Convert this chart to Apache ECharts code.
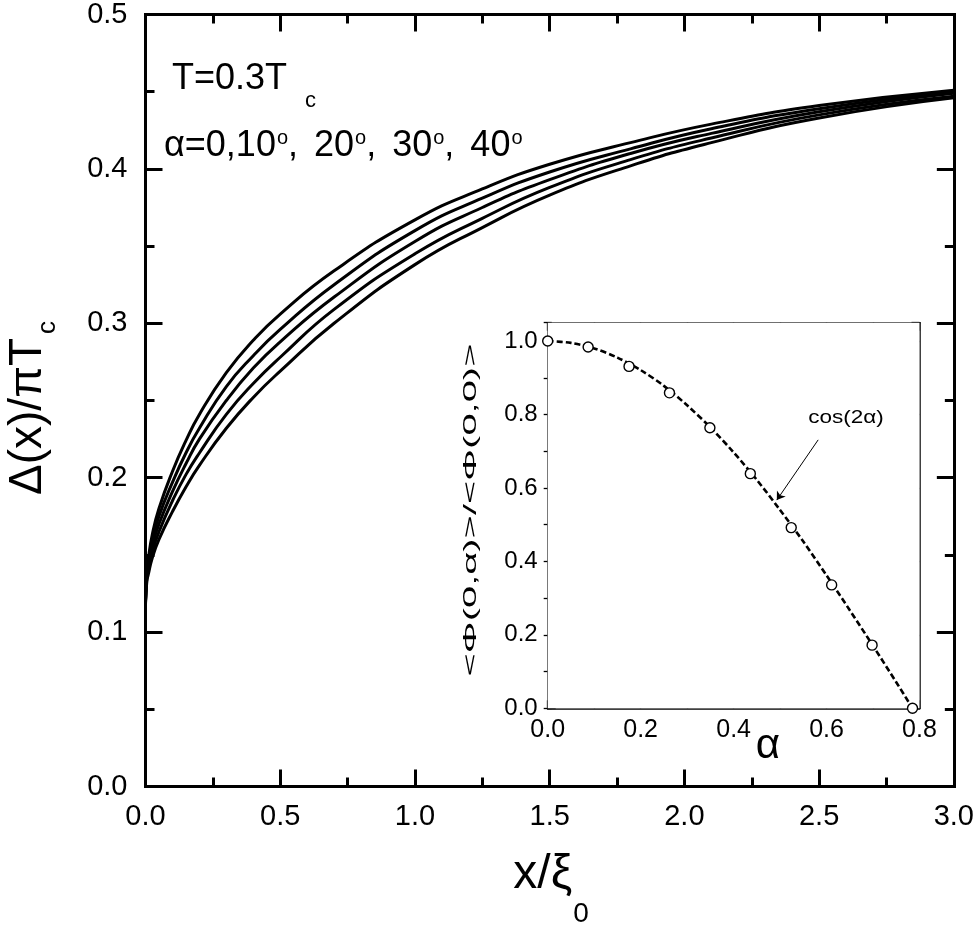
<!DOCTYPE html>
<html>
<head>
<meta charset="utf-8">
<script src="https://cdn.jsdelivr.net/npm/echarts@6.0.0/dist/echarts.min.js"></script>
<style>
html,body{margin:0;padding:0;background:#fff;}
#chart{width:977px;height:926px;}
</style>
</head>
<body>
<div id="chart"></div>
<script>
// ---------- data ----------
const xPos = [0, 0.005, 0.01, 0.025, 0.05, 0.1, 0.15, 0.2, 0.3, 0.4, 0.5, 0.7, 1.0, 1.25, 1.5, 1.8, 2.1, 2.5, 3.0];
const gapA0  = [0.121, 0.140, 0.147, 0.163, 0.180, 0.204, 0.224, 0.241, 0.268, 0.289, 0.306, 0.334, 0.367, 0.387, 0.403, 0.417, 0.429, 0.441, 0.451];
const gapA10 = [0.120, 0.138, 0.144, 0.159, 0.175, 0.197, 0.216, 0.232, 0.259, 0.279, 0.296, 0.325, 0.360, 0.381, 0.398, 0.413, 0.426, 0.439, 0.450];
const gapA20 = [0.120, 0.136, 0.142, 0.156, 0.170, 0.191, 0.209, 0.225, 0.250, 0.271, 0.288, 0.317, 0.353, 0.375, 0.393, 0.410, 0.423, 0.437, 0.449];
const gapA30 = [0.119, 0.135, 0.140, 0.152, 0.165, 0.185, 0.202, 0.216, 0.241, 0.261, 0.278, 0.309, 0.345, 0.368, 0.388, 0.406, 0.420, 0.435, 0.447];
const gapA40 = [0.118, 0.133, 0.137, 0.148, 0.160, 0.178, 0.194, 0.208, 0.232, 0.252, 0.269, 0.300, 0.338, 0.362, 0.383, 0.402, 0.417, 0.433, 0.446];
const curveNames = ['α=0', 'α=10°', 'α=20°', 'α=30°', 'α=40°'];

// inset: open circles and dashed cos(2α) curve
const alphaPts = [0, 0.087, 0.175, 0.262, 0.349, 0.436, 0.524, 0.611, 0.698, 0.785];
const ratioPts = [1.000, 0.984, 0.931, 0.859, 0.764, 0.639, 0.492, 0.336, 0.172, 0.000];
const alphaLine = [0, 0.05, 0.1, 0.15, 0.2, 0.25, 0.3, 0.35, 0.4, 0.45, 0.5, 0.55, 0.6, 0.65, 0.7, 0.75, 0.785];
const cosLine = [1.000, 0.995, 0.980, 0.955, 0.921, 0.878, 0.825, 0.765, 0.697, 0.622, 0.540, 0.454, 0.362, 0.267, 0.170, 0.071, 0.000];
const arrowFrom = [0.582, 0.731];
const arrowTo = [0.493, 0.567];

// tick labels
const mainXTicks = ['0.0', '0.5', '1.0', '1.5', '2.0', '2.5', '3.0'];
const mainYTicks = ['0.0', '0.1', '0.2', '0.3', '0.4', '0.5'];
const insetXTicks = ['0.0', '0.2', '0.4', '0.6', '0.8'];
const insetYTicks = ['0.0', '0.2', '0.4', '0.6', '0.8', '1.0'];

// ---------- chart ----------
const FONT = '"Liberation Sans", Arial, Helvetica, sans-serif';
const chart = echarts.init(document.getElementById('chart'), null, {renderer: 'canvas'});

function lookup(arr, step) {
  return function (v) {
    const i = Math.round(v / step);
    return (Math.abs(i * step - v) < 1e-6 && arr[i] !== undefined) ? arr[i] : '';
  };
}

function mainAxis(extra) {
  return Object.assign({
    type: 'value',
    gridIndex: 0,
    axisLine: {show: true, onZero: false, lineStyle: {color: '#000', width: 3, cap: 'square'}},
    axisTick: {show: true, inside: true, length: 17, lineStyle: {color: '#000', width: 3}},
    minorTick: {show: true, splitNumber: 2, length: 9, lineStyle: {color: '#000', width: 3}},
    splitLine: {show: false},
    minorSplitLine: {show: false},
    axisLabel: {show: false}
  }, extra);
}

function insetAxis(extra) {
  return Object.assign({
    type: 'value',
    gridIndex: 1,
    axisLine: {show: true, onZero: false, lineStyle: {color: '#000', width: 1.5, cap: 'square'}},
    axisTick: {show: true, inside: true, length: 8, lineStyle: {color: '#000', width: 1.3}},
    splitLine: {show: false},
    minorSplitLine: {show: false},
    axisLabel: {show: false}
  }, extra);
}

const curves = [gapA0, gapA10, gapA20, gapA30, gapA40];
const mainSeries = curves.map(function (arr, k) {
  return {
    name: curveNames[k],
    type: 'line',
    xAxisIndex: 0,
    yAxisIndex: 0,
    data: xPos.map(function (x, i) { return [x, arr[i]]; }),
    showSymbol: false,
    symbol: 'none',
    smooth: 0.5,
    lineStyle: {color: '#000', width: 3},
    z: 3
  };
});

const option = {
  animation: false,
  backgroundColor: '#fff',
  grid: [
    {left: 145.5, top: 14, width: 809.5, height: 772.5, containLabel: false},
    {left: 547.7, top: 322.7, width: 371.8, height: 385.6, containLabel: false,
     show: true, backgroundColor: '#fff', borderWidth: 0, z: 5}
  ],
  xAxis: [
    mainAxis({min: 0, max: 3, interval: 0.5, position: 'bottom',
      axisLabel: {show: true, color: '#000', fontSize: 29, fontFamily: FONT, margin: 16,
        formatter: lookup(mainXTicks, 0.5)}}),
    mainAxis({min: 0, max: 3, interval: 0.5, position: 'top'}),
    insetAxis({min: 0, max: 0.8, interval: 0.2, position: 'bottom',
      minorTick: {show: true, splitNumber: 2, length: 4, lineStyle: {color: '#000', width: 1.3}},
      axisLabel: {show: true, color: '#000', fontSize: 25, fontFamily: FONT, margin: 9,
        formatter: lookup(insetXTicks, 0.2)}}),
    insetAxis({min: 0, max: 0.8, interval: 0.2, position: 'top',
      minorTick: {show: true, splitNumber: 2, length: 4, lineStyle: {color: '#000', width: 1.3}}})
  ],
  yAxis: [
    mainAxis({min: 0, max: 0.5, interval: 0.1, position: 'left',
      axisLabel: {show: true, color: '#000', fontSize: 29, fontFamily: FONT, margin: 18,
        formatter: lookup(mainYTicks, 0.1)}}),
    mainAxis({min: 0, max: 0.5, interval: 0.1, position: 'right'}),
    insetAxis({min: 0, max: 1.05, interval: 0.2, position: 'left',
      axisLabel: {show: true, color: '#000', fontSize: 24, fontFamily: FONT, margin: 10,
        showMaxLabel: false, formatter: lookup(insetYTicks, 0.2)}}),
    insetAxis({min: 0, max: 1.05, interval: 0.2, position: 'right'}),
    insetAxis({min: 0, max: 1.05, interval: 0.1, position: 'left',
      axisLine: {show: false}, axisTick: {show: true, inside: true, length: 4, lineStyle: {color: '#000', width: 1.3}}}),
    insetAxis({min: 0, max: 1.05, interval: 0.1, position: 'right',
      axisLine: {show: false}, axisTick: {show: true, inside: true, length: 4, lineStyle: {color: '#000', width: 1.3}}})
  ],
  series: mainSeries.concat([
    {
      name: 'cos(2α)',
      type: 'line',
      xAxisIndex: 2,
      yAxisIndex: 2,
      data: alphaLine.map(function (a, i) { return [a, cosLine[i]]; }),
      showSymbol: false,
      symbol: 'none',
      smooth: 0.3,
      lineStyle: {color: '#000', width: 2.6, type: [6, 3]},
      z: 6,
      markLine: {
        silent: true,
        symbol: ['none', 'arrow'],
        symbolSize: 8,
        label: {show: false},
        lineStyle: {color: '#000', width: 1, type: 'solid'},
        data: [[{coord: arrowFrom}, {coord: arrowTo}]]
      }
    },
    {
      name: 'ratio',
      type: 'scatter',
      xAxisIndex: 2,
      yAxisIndex: 2,
      data: alphaPts.map(function (a, i) { return [a, ratioPts[i]]; }),
      symbol: 'circle',
      symbolSize: 10,
      itemStyle: {color: '#ffffff', borderColor: '#000', borderWidth: 1.4, opacity: 1},
      z: 7
    }
  ]),
  graphic: [
    {
      type: 'text', x: 172, y: 61, z: 10,
      style: {
        text: '{m|T=0.3T}{s|c}',
        align: 'left', verticalAlign: 'top', fill: '#000',
        rich: {
          m: {fontSize: 36, lineHeight: 36, fontFamily: FONT, verticalAlign: 'top', fill: '#000'},
          s: {fontSize: 22, lineHeight: 22, fontFamily: FONT, verticalAlign: 'top', padding: [29, 0, 0, 18], fill: '#000'}
        }
      }
    },
    {
      type: 'text', x: 164, y: 128, z: 10,
      style: {
        text: '{m|α=0,10}{s|o}{p|, }{m|20}{s|o}{p|, }{m|30}{s|o}{p|, }{m|40}{s|o}',
        align: 'left', verticalAlign: 'top', fill: '#000',
        rich: {
          m: {fontSize: 36, lineHeight: 36, fontFamily: FONT, verticalAlign: 'top', fill: '#000'},
          p: {fontSize: 36, lineHeight: 36, fontFamily: FONT, verticalAlign: 'top', padding: [0, 6, 0, 0], fill: '#000'},
          s: {fontSize: 20, lineHeight: 20, fontFamily: FONT, verticalAlign: 'top', padding: [0, 0, 0, 1], fill: '#000'}
        }
      }
    },
    {
      type: 'text', x: 5, y: 495, rotation: Math.PI / 2, z: 10,
      style: {
        text: '{m|Δ(x)/πT}{s|c}',
        align: 'left', verticalAlign: 'top', fill: '#000',
        rich: {
          m: {fontSize: 46, lineHeight: 46, fontFamily: FONT, verticalAlign: 'top', fill: '#000'},
          s: {fontSize: 26, lineHeight: 26, fontFamily: FONT, verticalAlign: 'top', padding: [30, 0, 0, 4], fill: '#000'}
        }
      }
    },
    {
      type: 'text', x: 551, y: 851, z: 10,
      style: {
        text: '{m|x/ξ}{s|0}',
        align: 'center', verticalAlign: 'top', fill: '#000',
        rich: {
          m: {fontSize: 48, lineHeight: 48, fontFamily: FONT, verticalAlign: 'top', fill: '#000'},
          s: {fontSize: 28, lineHeight: 28, fontFamily: FONT, verticalAlign: 'top', padding: [49, 0, 0, 1], fill: '#000'}
        }
      }
    },
    {
      type: 'text', x: 471, y: 510, rotation: Math.PI / 2, scaleX: 2.1, z: 10,
      style: {
        text: '<Φ(0,α)>/<Φ(0,0)>',
        align: 'center', verticalAlign: 'middle', fill: '#000',
        fontSize: 19, fontFamily: FONT
      }
    },
    {
      type: 'text', x: 768, y: 746, z: 10,
      style: {
        text: 'α', align: 'center', verticalAlign: 'middle', fill: '#000',
        fontSize: 42, fontFamily: FONT
      }
    },
    {
      type: 'text', x: 846, y: 418, scaleX: 1.25, z: 10,
      style: {
        text: 'cos(2α)', align: 'center', verticalAlign: 'middle', fill: '#000',
        fontSize: 18, fontFamily: FONT
      }
    }
  ]
};

chart.setOption(option);
</script>
</body>
</html>
